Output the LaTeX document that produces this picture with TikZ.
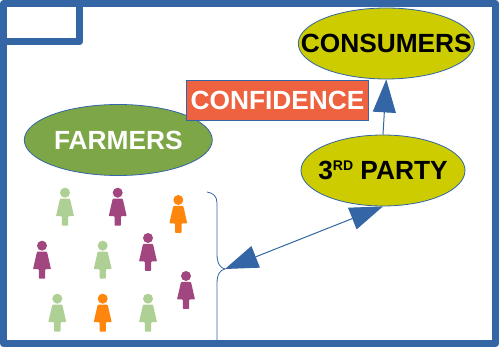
\documentclass[tikz,border=0pt]{standalone}
\usepackage{fontspec}
\setmainfont{Liberation Sans}
\usetikzlibrary{shapes.geometric,arrows.meta}
\definecolor{framecol}{HTML}{3465A4}
\definecolor{yellowcol}{HTML}{CCCC00}
\definecolor{farmercol}{HTML}{7DA647}
\definecolor{confcol}{HTML}{EE6240}
\definecolor{palegreen}{HTML}{AFD095}
\definecolor{plum}{HTML}{A1467E}
\definecolor{amber}{HTML}{FF860D}
\newcommand{\bubbletext}[1]{\makebox[0pt]{#1}}
\tikzset{
    bubble/.style={ellipse, draw=framecol, line width=0.8pt, inner sep=0pt, font=\fontsize{26.3}{28}\selectfont\bfseries},
    link/.style={draw=framecol, line width=1pt, -{Triangle[length=33pt,width=23pt]}},
}
\begin{document}
\begin{tikzpicture}[x=1pt,y=-1pt]
    \useasboundingbox (0,0) rectangle (499,347);
    % Bubbles
    \node[bubble, fill=yellowcol, minimum width=176pt, minimum height=71pt] (consumers) at (386.3,43.5) {\bubbletext{CONSUMERS}};
    \node[bubble, fill=yellowcol, minimum width=164pt, minimum height=71pt] (party) at (383,170.5) {\bubbletext{3\raisebox{9pt}{\fontsize{14}{14}\selectfont RD} PARTY}};
    \node[bubble, fill=farmercol, text=white, minimum width=188pt, minimum height=71pt] (farmers) at (118.3,140) {\bubbletext{FARMERS}};
    \node[draw=framecol, fill=confcol, text=white, line width=0.8pt, inner sep=0pt, minimum width=181.5pt, minimum height=40pt, font=\fontsize{26.3}{28}\selectfont\bfseries] (confidence) at (277.5,100.2) {CONFIDENCE};
    % People
    \foreach \px/\py/\pcol in {65/192.7/palegreen, 117.7/192.7/plum, 178.3/200/amber,
        42/245.7/plum, 102.7/245.7/palegreen, 148/238/plum, 186/276/plum,
        57.3/298.7/palegreen, 102.7/298.7/amber, 148/298.7/palegreen} {
        \fill[\pcol] (\px,\py) circle (5);
        \fill[\pcol, rounded corners=0.8pt] (\px-5,\py+6) -- (\px+5,\py+6) -- (\px+9,\py+23.5) -- (\px+3.2,\py+23.5)
            -- (\px+3.2,\py+33) -- (\px-3.2,\py+33) -- (\px-3.2,\py+23.5) -- (\px-9,\py+23.5) -- cycle;
    }
    % Brace
    \coordinate (bracetip) at (225,269);
    \draw[framecol, line width=0.8pt] (207,192) .. controls (213,193) and (217,196) .. (217,203) -- (217,254)
        .. controls (217,263) and (220,268) .. (bracetip) .. controls (220,270) and (217,274) .. (217,284) -- (217,342);
    % Arrows
    \draw[link] (party.north) -- (consumers.south);
    \draw[link, {Triangle[length=33pt,width=23pt]}-{Triangle[length=33pt,width=23pt]}] (bracetip) -- (party.south);
    % Frame
    \draw[framecol, line width=7pt, line join=round] (3.5,3.5) rectangle (495.5,343.5);
    \draw[framecol, line width=7pt, line join=round] (3.5,42) -- (79.5,42) -- (79.5,3.5);
\end{tikzpicture}
\end{document}
